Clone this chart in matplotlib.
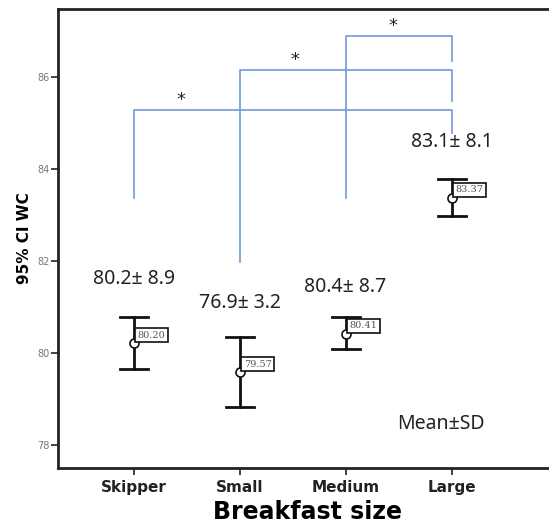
import matplotlib.pyplot as plt

# dados
grupos = ["Skipper", "Small", "Medium", "Large"]
media = [80.20, 79.57, 80.41, 83.37]
ic_sup = [80.78, 80.33, 80.78, 83.77]
ic_inf = [79.65, 78.82, 80.07, 82.97]
rotulos_media = ["80.20", "79.57", "80.41", "83.37"]
texto_sd = ["80.2\u00b1 8.9", "76.9\u00b1 3.2", "80.4\u00b1 8.7", "83.1\u00b1 8.1"]
y_texto_sd = [81.6, 81.08, 81.43, 84.58]

# colchetes de significancia: (grupo inicial, base do grupo inicial, altura, base do Large)
colchetes = [(1, 83.37, 85.27, 84.78), (2, 81.97, 86.15, 85.47), (3, 83.37, 86.88, 86.35)]
estrela_x = [1.45, 2.52, 3.45]

fig = plt.figure(figsize=(5.49, 5.31), dpi=100)
ax = fig.add_axes([0.1056, 0.1186, 0.91, 0.8644])

x = [1, 2, 3, 4]
azul = "#6f9bd8"

# colchetes
for (g, base, topo, base_l), sx in zip(colchetes, estrela_x):
    ax.plot([g, g, 4, 4], [base, topo, topo, base_l], color=azul, lw=1.2, zorder=1)
    ax.text(sx, topo + 0.02, "*", ha="center", va="bottom", fontsize=13, color="#222222")

# barras de erro
for i in range(4):
    ax.plot([x[i], x[i]], [ic_inf[i], ic_sup[i]], color="#111111", lw=2, zorder=3)
    for yy in (ic_inf[i], ic_sup[i]):
        ax.plot([x[i] - 0.125, x[i] + 0.135], [yy, yy], color="#111111", lw=2, zorder=3)
    ax.plot(x[i], media[i], "o", ms=6.5, mfc="white", mec="#111111", mew=1.2, zorder=4)
    ax.annotate(rotulos_media[i], (x[i], media[i]), xytext=(3, 2.5), textcoords="offset points",
                ha="left", va="bottom", fontsize=7, family="DejaVu Serif", color="#555555",
                bbox=dict(boxstyle="square,pad=0.25", fc="white", ec="#111111", lw=1.2), zorder=5)
    ax.text(x[i], y_texto_sd[i], texto_sd[i], ha="center", va="center", fontsize=14,
            family=["Noto Sans", "DejaVu Sans"], color="#222222")

ax.text(3.9, 78.45, "Mean\u00b1SD", ha="center", va="center", fontsize=14,
        family=["Noto Sans", "DejaVu Sans"], color="#222222")

ax.set_xlim(0.286, 5.0)
ax.set_ylim(77.49, 87.47)
ax.set_xticks(x)
ax.set_xticklabels(grupos, fontsize=11, fontweight="bold", color="#222222")
ax.set_yticks([78, 80, 82, 84, 86])
ax.set_yticklabels(["78", "80", "82", "84", "86"], fontsize=7, color="#777777")
ax.tick_params(axis="both", direction="out", length=5, width=1.3, color="#333333")
ax.tick_params(axis="y", pad=1)

for s in ["left", "bottom", "top"]:
    ax.spines[s].set_linewidth(2)
    ax.spines[s].set_color("#222222")
ax.spines["right"].set_visible(False)

ax.set_ylabel("95% CI WC", fontsize=11, fontweight="bold", labelpad=4)
ax.set_xlabel("Breakfast size", fontsize=17, fontweight="bold", labelpad=4)

fig.savefig("out.png", dpi=100)
